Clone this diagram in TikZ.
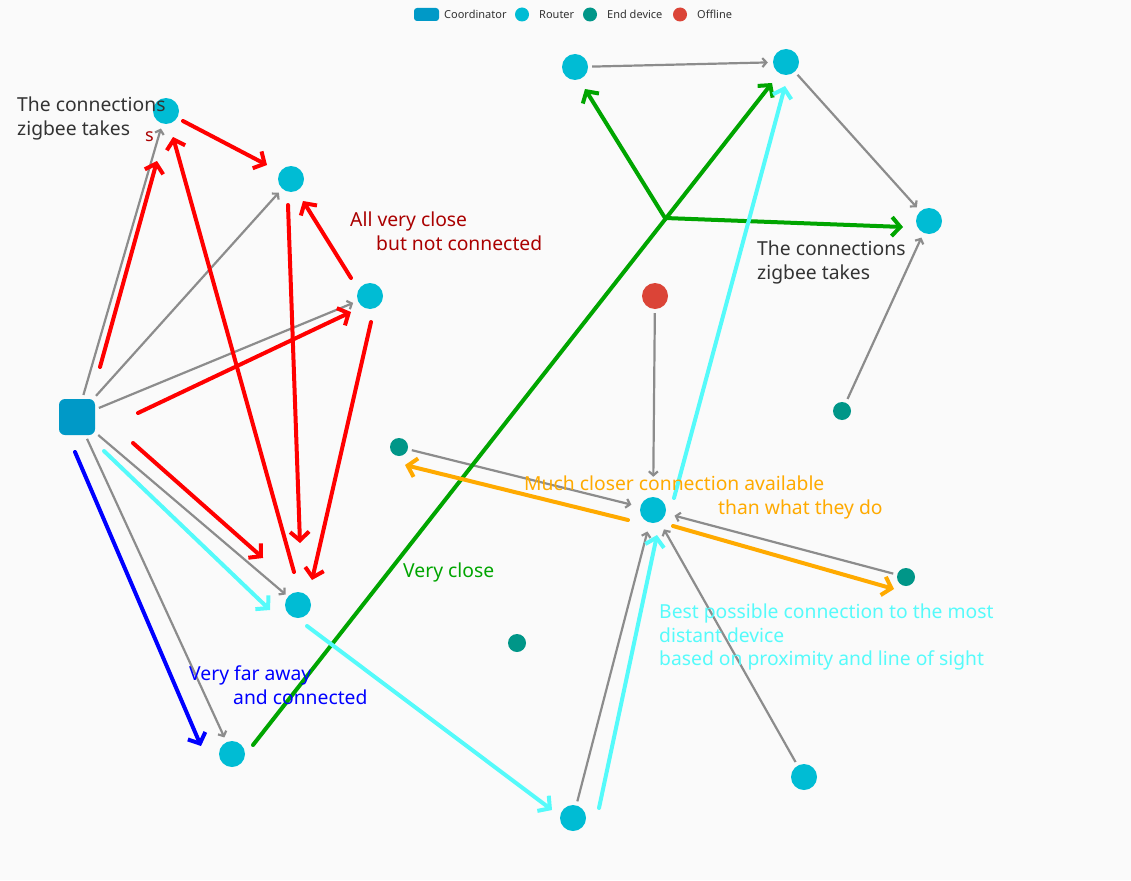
\documentclass[tikz,border=0pt]{standalone}
\usepackage{fontspec}
\setmainfont{Noto Sans}
\usetikzlibrary{arrows.meta,positioning}

\definecolor{bgc}{RGB}{250,250,250}
\definecolor{routerc}{RGB}{0,188,212}
\definecolor{coordc}{RGB}{0,153,199}
\definecolor{endc}{RGB}{0,150,136}
\definecolor{offc}{RGB}{219,68,55}
\definecolor{linkc}{RGB}{140,140,140}
\definecolor{redc}{RGB}{255,0,0}
\definecolor{greenc}{RGB}{0,165,0}
\definecolor{cyanc}{RGB}{85,250,250}
\definecolor{bluec}{RGB}{0,0,255}
\definecolor{orangec}{RGB}{255,170,0}
\definecolor{darkredc}{RGB}{170,0,0}
\definecolor{textc}{RGB}{51,51,51}

\tikzset{
  router/.style={circle, fill=routerc, minimum size=26pt, inner sep=0pt},
  enddev/.style={circle, fill=endc, minimum size=18pt, inner sep=0pt},
  offline/.style={circle, fill=offc, minimum size=26pt, inner sep=0pt},
  coordinator/.style={rectangle, rounded corners=6pt, fill=coordc, minimum size=36pt, inner sep=0pt},
  link/.style={draw=linkc, line width=2.2pt, -{Straight Barb[length=4pt,width=9pt]}, shorten <=4pt, shorten >=5pt},
  annot/.style={line width=4pt, line cap=round, -{Straight Barb[length=8.5pt,width=19pt]}},
  note/.style={anchor=north west, inner sep=0pt, align=left, font=\fontsize{19.3}{23.5}\selectfont},
  legend/.style={anchor=west, inner sep=0pt, text=textc, font=\fontsize{11}{13}\selectfont},
}

\begin{document}
\begin{tikzpicture}[x=1pt, y=-1pt]
  \fill[bgc] (0,0) rectangle (1131,880);
  \useasboundingbox (0,0) rectangle (1131,880);

  % legend
  \node[fill=coordc, rounded corners=3pt, minimum width=25pt, minimum height=13pt, inner sep=0pt] (lcoord) at (426.5,14.5) {};
  \node[legend] (tcoord) at (444,14.5) {Coordinator};
  \node[router, minimum size=14pt] (lrouter) at (522,14.5) {};
  \node[legend] (trouter) at (539,14.5) {Router};
  \node[enddev, minimum size=14pt] (lend) at (590,14.5) {};
  \node[legend] (tend) at (607,14.5) {End device};
  \node[offline, minimum size=14pt] (loff) at (680,14.5) {};
  \node[legend] (toff) at (697,14.5) {Offline};

  % devices
  \node[coordinator] (C) at (77,417) {};
  \node[router] (R1) at (166,111) {};
  \node[router] (R2) at (291,179) {};
  \node[router] (R3) at (370,296) {};
  \node[router] (R4) at (298,605) {};
  \node[router] (R5) at (232,754) {};
  \node[router] (R6) at (575,67) {};
  \node[router] (R7) at (786,62) {};
  \node[router] (R8) at (929,221) {};
  \node[router] (R9) at (653,510) {};
  \node[router] (R10) at (573,818) {};
  \node[router] (R11) at (804,777) {};
  \node[offline] (O) at (655,296) {};
  \node[enddev] (E1) at (399,447) {};
  \node[enddev] (E2) at (842,411) {};
  \node[enddev] (E3) at (906,577) {};
  \node[enddev] (E4) at (517,643) {};

  % links zigbee reports
  \draw[link] (C) -- (R1);
  \draw[link] (C) -- (R2);
  \draw[link] (C) -- (R3);
  \draw[link, shorten >=3pt] (C) -- (R4);
  \draw[link] (C) -- (R5);
  \draw[link] (R6) -- (R7);
  \draw[link] (R7) -- (R8);
  \draw[link] (E2) -- (R8);
  \draw[link, shorten >=20pt] (O) -- (R9);
  \draw[link, shorten >=9pt] (E1) -- (R9);
  \draw[link, shorten >=9pt] (E3) -- (R9);
  \draw[link, shorten >=9pt] (R10) -- (R9);
  \draw[link, shorten >=9pt] (R11) -- (R9);

  % red: close but not connected
  \draw[annot, redc] (100,367) -- (157,161);
  \draw[annot, redc] (183,121) -- (267,165);
  \draw[annot, redc] (294,572) -- (173,137);
  \draw[annot, redc] (288,205) -- (300,543);
  \draw[annot, redc] (371,322) -- (312,580);
  \draw[annot, redc] (351,278) -- (303,201);
  \draw[annot, redc] (138,413) -- (351,312);
  \draw[annot, redc] (133,443) -- (263,558);

  % green, cyan, blue, orange
  \draw[annot, greenc] (253,745) -- (772,83);
  \draw[annot, greenc] (665,218) -- (585,89);
  \draw[annot, greenc] (665,218) -- (903,227);
  \draw[annot, cyanc] (104,451) -- (270,610);
  \draw[annot, cyanc] (307,626) -- (552,810);
  \draw[annot, cyanc] (599,808) -- (657,535);
  \draw[annot, cyanc] (674,498) -- (785,86);
  \draw[annot, bluec] (75,452) -- (201,746);
  \draw[annot, orangec] (628,520) -- (405,465);
  \draw[annot, orangec] (673,526) -- (894,589);

  % notes
  \node[note, text=textc] (takes1) at (17,97) {The connections\\zigbee takes};
  \node[text=darkredc, anchor=base west, inner sep=0pt, font=\fontsize{18}{20}\selectfont] (stray) at (145,141) {s};
  \node[note, text=textc] (takes2) at (757,241) {The connections\\zigbee takes};
  \node[note, text=darkredc] (allclose) at (350,212) {All very close\\\hspace*{26pt}but not connected};
  \node[note, text=orangec] (closer) at (524,476) {Much closer connection available\\\hspace*{194pt}than what they do};
  \node[note, text=greenc] (vclose) at (403,563) {Very close};
  \node[note, text=cyanc] (best) at (659,604) {Best possible connection to the most\\distant device\\based on proximity and line of sight};
  \node[note, text=bluec] (far) at (189,666) {Very far away\\\hspace*{44pt}and connected};
\end{tikzpicture}
\end{document}
